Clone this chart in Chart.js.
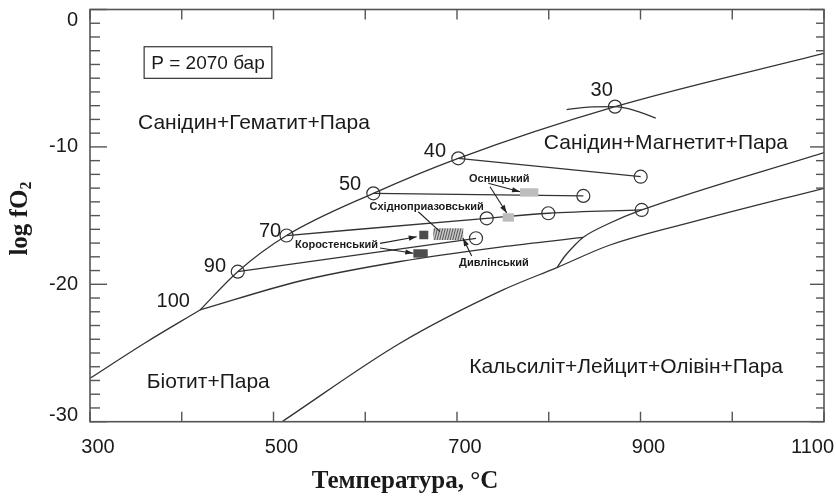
<!DOCTYPE html>
<html>
<head>
<meta charset="utf-8">
<script src="https://cdn.jsdelivr.net/npm/chart.js@4.4.1/dist/chart.umd.min.js"></script>
<style>
  html, body { margin: 0; padding: 0; background: #fff; }
  canvas { display: block; }
</style>
</head>
<body>
<canvas id="chart" width="836" height="500"></canvas>
<script>
// Temperature (°C) and log fO2 along each phase boundary
const biotiteLowT = [300, 359.9, 419.9];
const biotiteLowL = [-26.84, -24.27, -21.87];

const sanidineUpperT = [419.9, 461.0, 514.2, 608.8, 701.4, 872.2, 1100];
const sanidineUpperL = [-21.87, -19.08, -16.45, -13.38, -10.83, -7.07, -3.19];

const annite100T = [419.9, 528.9, 637.9, 746.9, 837.3];
const annite100L = [-21.87, -19.76, -18.34, -17.29, -16.59];

const kalsiliteUpperT = [809.0, 817.7, 827.5, 837.3, 866.8, 901.3, 1100];
const kalsiliteUpperL = [-18.78, -17.94, -17.21, -16.59, -15.54, -14.59, -10.41];

const kalsiliteLowerT = [509.3, 637.9, 750.1, 809.0, 866.8, 964.9, 1100];
const kalsiliteLowerL = [-30.0, -24.29, -20.41, -18.78, -17.14, -15.32, -13.01];

const arc30T = [819.5, 843.0, 872.2, 895.8, 916.6];
const arc30L = [-7.28, -7.10, -7.07, -7.39, -7.90];

// Isopleths of biotite composition (Fe/(Fe+Mg), %)
const iso40T = [701.4, 900.2];
const iso40L = [-10.83, -12.17];
const iso50T = [608.8, 837.7];
const iso50L = [-13.38, -13.57];
const iso70T = [514.2, 732.4, 799.5, 901.3];
const iso70L = [-16.45, -15.20, -14.83, -14.59];
const iso90T = [461.0, 720.7];
const iso90L = [-19.08, -16.65];
const point30T = [872.2];
const point30L = [-7.07];

// Massif fields: temperature and log fO2 ranges
const massifNames = ['Осницький', 'Осницький', 'Коростенський', 'Коростенський', 'Східноприазовський'];
const massifTmin = [768.7, 749.8, 658.9, 652.4, 674.2];
const massifTmax = [788.6, 762.1, 668.7, 668.1, 706.8];
const massifLmin = [-13.62, -15.44, -16.72, -18.06, -16.78];
const massifLmax = [-13.01, -14.83, -16.10, -17.45, -15.92];

// Axis tick labels
const xTickLabels = [300, 500, 700, 900, 1100];
const yTickLabels = [0, -10, -20, -30];

const pts = (T, L) => T.map((t, i) => ({ x: t, y: L[i] }));

const LINE = '#333333';
const SANS = '"Liberation Sans", Arial, Helvetica, sans-serif';
const SERIF = '"Liberation Serif", "Times New Roman", serif';

function curve(T, L, smooth) {
  return {
    data: pts(T, L), showLine: true, borderColor: LINE, borderWidth: 1.3,
    pointRadius: 0, fill: false,
    cubicInterpolationMode: smooth ? 'monotone' : 'default', tension: 0
  };
}

const circleData = [
  ...pts(point30T, point30L), ...pts(iso40T, iso40L), ...pts(iso50T, iso50L),
  ...pts(iso70T, iso70L), ...pts(iso90T, iso90L)
];

// Text placed in data coordinates
const fieldLabels = [
  { text: 'Санідин+Гематит+Пара', t: 478.7, l: -8.26, font: '21px ' + SANS },
  { text: 'Санідин+Магнетит+Пара', t: 927.7, l: -9.72, font: '21px ' + SANS },
  { text: 'Біотит+Пара', t: 428.9, l: -27.16, font: '21px ' + SANS },
  { text: 'Кальсиліт+Лейцит+Олівін+Пара', t: 884.3, l: -26.0, font: '21px ' + SANS },
  { text: '30', t: 857.7, l: -5.86, font: '20px ' + SANS },
  { text: '40', t: 676.0, l: -10.35, font: '20px ' + SANS },
  { text: '50', t: 583.4, l: -12.77, font: '20px ' + SANS },
  { text: '70', t: 496.2, l: -16.17, font: '20px ' + SANS },
  { text: '90', t: 436.2, l: -18.72, font: '20px ' + SANS },
  { text: '100', t: 390.8, l: -21.27, font: '20px ' + SANS },
  { text: 'Осницький', t: 746.1, l: -12.34, font: 'bold 11px ' + SANS },
  { text: 'Східноприазовський', t: 666.9, l: -14.35, font: 'bold 11px ' + SANS },
  { text: 'Коростенський', t: 568.7, l: -17.14, font: 'bold 11px ' + SANS },
  { text: 'Дивлінський', t: 740.3, l: -18.43, font: 'bold 11px ' + SANS }
];

// Leader lines from massif names to their fields
const leaders = [
  { t0: 734.1, l0: -12.65, t1: 768.7, l1: -13.26, head: true },
  { t0: 736.0, l0: -12.90, t1: 754.2, l1: -14.81, head: true },
  { t0: 657.8, l0: -14.72, t1: 681.5, l1: -16.17, head: false },
  { t0: 616.1, l0: -17.02, t1: 656.1, l1: -16.54, head: true },
  { t0: 616.1, l0: -17.36, t1: 652.4, l1: -17.74, head: true },
  { t0: 716.0, l0: -17.94, t1: 706.5, l1: -16.65, head: true }
];

const annotations = {
  id: 'annotations',
  afterDatasetsDraw(chart) {
    const { ctx, scales: { x, y } } = chart;
    ctx.save();
    // massif fields
    massifNames.forEach((name, i) => {
      const x0 = x.getPixelForValue(massifTmin[i]);
      const x1 = x.getPixelForValue(massifTmax[i]);
      const y0 = y.getPixelForValue(massifLmax[i]);
      const y1 = y.getPixelForValue(massifLmin[i]);
      if (name === 'Осницький') {
        ctx.fillStyle = '#bdbdbd';
        ctx.fillRect(x0, y0, x1 - x0, y1 - y0);
      } else if (name === 'Коростенський') {
        ctx.fillStyle = '#4d4d4d';
        ctx.fillRect(x0, y0, x1 - x0, y1 - y0);
      } else {
        ctx.fillStyle = '#c8c8c8';
        ctx.fillRect(x0, y0, x1 - x0, y1 - y0);
        ctx.save();
        ctx.beginPath();
        ctx.rect(x0, y0, x1 - x0, y1 - y0);
        ctx.clip();
        ctx.strokeStyle = '#555';
        ctx.lineWidth = 1;
        for (let px = x0 - 4; px < x1 + 4; px += 2.6) {
          ctx.beginPath();
          ctx.moveTo(px, y1);
          ctx.lineTo(px + 3, y0);
          ctx.stroke();
        }
        ctx.restore();
      }
    });
    // leaders
    ctx.strokeStyle = '#222';
    ctx.fillStyle = '#222';
    ctx.lineWidth = 1.1;
    leaders.forEach(d => {
      const ax = x.getPixelForValue(d.t0), ay = y.getPixelForValue(d.l0);
      const bx = x.getPixelForValue(d.t1), by = y.getPixelForValue(d.l1);
      ctx.beginPath(); ctx.moveTo(ax, ay); ctx.lineTo(bx, by); ctx.stroke();
      if (d.head) {
        const a = Math.atan2(by - ay, bx - ax);
        ctx.beginPath();
        ctx.moveTo(bx, by);
        ctx.lineTo(bx - 8 * Math.cos(a) + 2.6 * Math.sin(a), by - 8 * Math.sin(a) - 2.6 * Math.cos(a));
        ctx.lineTo(bx - 8 * Math.cos(a) - 2.6 * Math.sin(a), by - 8 * Math.sin(a) + 2.6 * Math.cos(a));
        ctx.closePath(); ctx.fill();
      }
    });
    // field and isopleth labels
    ctx.fillStyle = '#1a1a1a';
    ctx.textAlign = 'center';
    ctx.textBaseline = 'middle';
    fieldLabels.forEach(d => {
      ctx.font = d.font;
      ctx.fillText(d.text, x.getPixelForValue(d.t), y.getPixelForValue(d.l));
    });
    // pressure box
    const bx0 = x.getPixelForValue(359.0), bx1 = x.getPixelForValue(498.2);
    const by0 = y.getPixelForValue(-2.71), by1 = y.getPixelForValue(-5.01);
    ctx.fillStyle = '#fff';
    ctx.fillRect(bx0, by0, bx1 - bx0, by1 - by0);
    ctx.strokeStyle = '#333';
    ctx.lineWidth = 1.2;
    ctx.strokeRect(bx0, by0, bx1 - bx0, by1 - by0);
    ctx.fillStyle = '#1a1a1a';
    ctx.font = '19px ' + SANS;
    ctx.fillText('P = 2070 бар', (bx0 + bx1) / 2, (by0 + by1) / 2 + 1);
    ctx.restore();
  }
};

const frame = {
  id: 'frame',
  afterDraw(chart) {
    const { ctx, chartArea: { left, right, top, bottom }, scales: { x, y } } = chart;
    const seg = (a, b, c, d) => { ctx.beginPath(); ctx.moveTo(a, b); ctx.lineTo(c, d); ctx.stroke(); };
    ctx.save();
    ctx.strokeStyle = '#555';
    ctx.lineWidth = 1.6;
    ctx.strokeRect(left, top, right - left, bottom - top);
    ctx.lineWidth = 1.4;
    x.ticks.forEach(t => {
      const px = x.getPixelForValue(t.value);
      seg(px, bottom, px, bottom - 10);
      seg(px, top, px, top + 10);
    });
    y.ticks.forEach(t => {
      const py = y.getPixelForValue(t.value);
      const major = t.value % 10 === 0;
      seg(left, py, left + (major ? 17 : 10), py);
      seg(right, py, right - (major ? 14 : 8), py);
    });
    // tick labels
    ctx.fillStyle = '#1a1a1a';
    ctx.font = '20px ' + SANS;
    ctx.textBaseline = 'middle';
    ctx.textAlign = 'center';
    x.ticks.forEach(t => {
      if (!xTickLabels.includes(t.value)) return;
      const s = String(t.value);
      const w = ctx.measureText(s).width;
      const cx = Math.min(x.getPixelForValue(t.value) + 8, chart.width - 2 - w / 2);
      ctx.fillText(s, cx, bottom + 26);
    });
    ctx.textAlign = 'right';
    y.ticks.forEach(t => {
      if (!yTickLabels.includes(t.value)) return;
      const py = Math.max(top + 11, Math.min(bottom - 6, y.getPixelForValue(t.value)));
      ctx.fillText(String(t.value), left - 12, py);
    });
    // axis titles
    ctx.textAlign = 'center';
    ctx.font = 'bold 25px ' + SERIF;
    ctx.fillText('Температура, °C', (left + right) / 2 - 52, 482);
    ctx.save();
    ctx.translate(21, (top + bottom) / 2 + 3);
    ctx.rotate(-Math.PI / 2);
    const main = 'log fO';
    ctx.font = 'bold 25px ' + SERIF;
    const wMain = ctx.measureText(main).width;
    ctx.font = 'bold 16px ' + SERIF;
    const wSub = ctx.measureText('2').width;
    const start = -(wMain + wSub) / 2;
    ctx.textAlign = 'left';
    ctx.font = 'bold 25px ' + SERIF;
    ctx.fillText(main, start, 0);
    ctx.font = 'bold 16px ' + SERIF;
    ctx.fillText('2', start + wMain, 6);
    ctx.restore();
    ctx.restore();
  }
};

new Chart(document.getElementById('chart'), {
  type: 'scatter',
  data: {
    datasets: [
      curve(biotiteLowT, biotiteLowL, true),
      curve(sanidineUpperT, sanidineUpperL, true),
      curve(annite100T, annite100L, true),
      curve(kalsiliteUpperT, kalsiliteUpperL, true),
      curve(kalsiliteLowerT, kalsiliteLowerL, true),
      curve(arc30T, arc30L, true),
      curve(iso40T, iso40L, false),
      curve(iso50T, iso50L, false),
      curve(iso70T, iso70L, true),
      curve(iso90T, iso90L, false),
      {
        data: circleData, showLine: false, pointStyle: 'circle', pointRadius: 6.5,
        pointBorderColor: LINE, pointBackgroundColor: 'rgba(0,0,0,0)', pointBorderWidth: 1.2
      }
    ]
  },
  options: {
    responsive: false,
    devicePixelRatio: 1,
    animation: false,
    layout: { padding: { top: 9.5, right: 12, left: 0, bottom: 0 } },
    plugins: { legend: { display: false }, tooltip: { enabled: false } },
    scales: {
      x: {
        type: 'linear', min: 300, max: 1100,
        ticks: { stepSize: 100, display: false, autoSkip: false },
        grid: { display: false }, border: { display: false },
        afterFit(s) { s.height = 78.3; s.paddingLeft = 0; s.paddingRight = 0; }
      },
      y: {
        type: 'linear', min: -30, max: 0,
        ticks: { stepSize: 1, display: false, autoSkip: false },
        grid: { display: false }, border: { display: false },
        afterFit(s) { s.width = 90; s.paddingTop = 0; s.paddingBottom = 0; }
      }
    }
  },
  plugins: [annotations, frame]
});
</script>
</body>
</html>
